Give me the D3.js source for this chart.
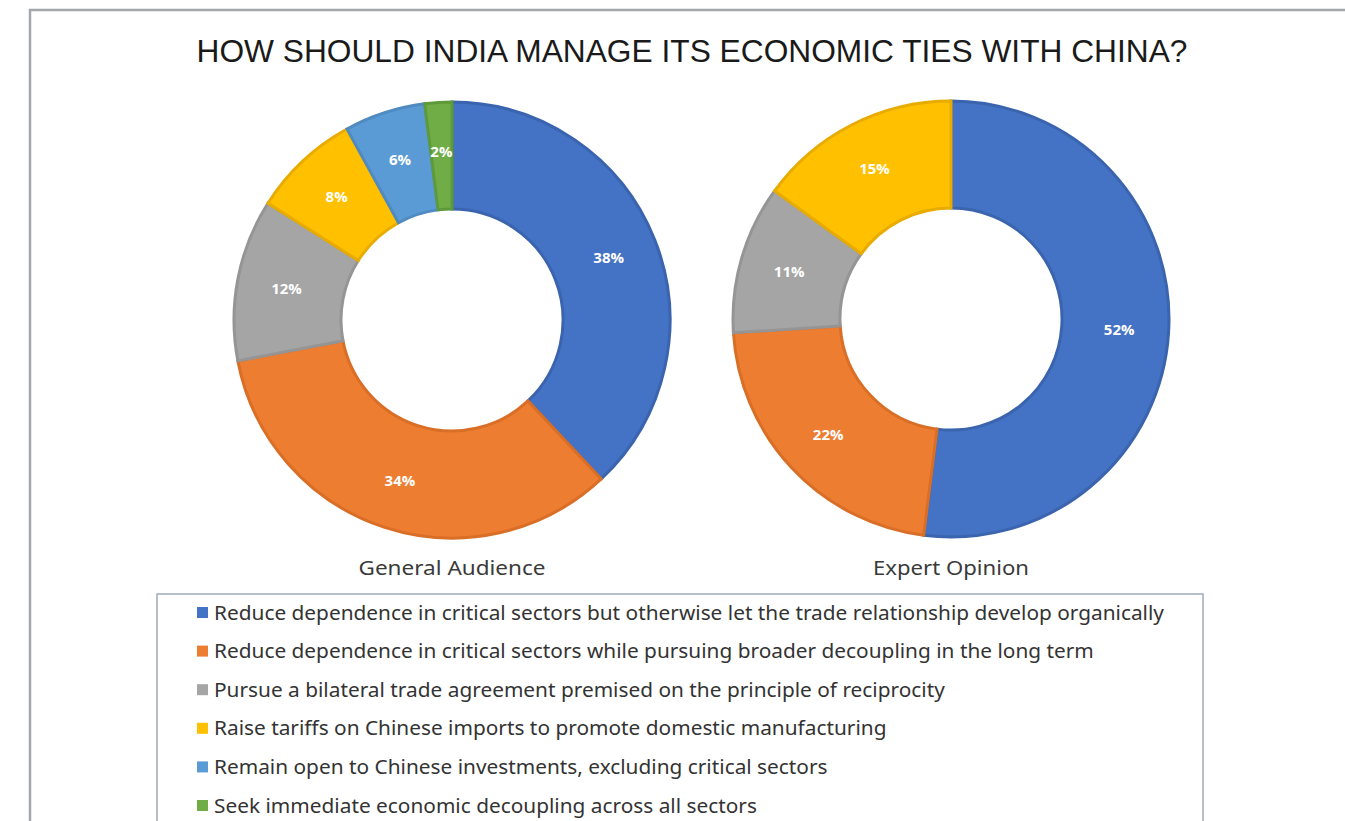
<!DOCTYPE html>
<html>
<head>
<meta charset="utf-8">
<script src="https://cdn.jsdelivr.net/npm/d3@7"></script>
<style>
  html, body { margin: 0; padding: 0; background: #ffffff; }
  svg { display: block; }
</style>
</head>
<body>
<svg id="chart" width="1345" height="821"></svg>
<script>
// Survey answer options (legend order = slice order)
const categories = [
  "Reduce dependence in critical sectors but otherwise let the trade relationship develop organically",
  "Reduce dependence in critical sectors while pursuing broader decoupling in the long term",
  "Pursue a bilateral trade agreement premised on the principle of reciprocity",
  "Raise tariffs on Chinese imports to promote domestic manufacturing",
  "Remain open to Chinese investments, excluding critical sectors",
  "Seek immediate economic decoupling across all sectors"
];
// Share of respondents (%) per option
const generalAudience = [38, 34, 12, 8, 6, 2];
const expertOpinion   = [52, 22, 11, 15, 0, 0];
const groupNames = ["General Audience", "Expert Opinion"];
const titleText = "HOW SHOULD INDIA MANAGE ITS ECONOMIC TIES WITH CHINA?";

const fills   = ["#4472C4", "#ED7D31", "#A5A5A5", "#FFC000", "#5B9BD5", "#70AD47"];
const strokes = ["#3B64AE", "#D96E26", "#959595", "#E8AC00", "#4F8AC0", "#5E9A3A"];

const svg = d3.select("#chart");
const W = 1345, H = 821;

// outer chart frame
svg.append("rect")
  .attr("x", 30).attr("y", 10)
  .attr("width", W + 20).attr("height", H + 20)
  .attr("fill", "#ffffff")
  .attr("stroke", "#a3a7ab").attr("stroke-width", 2.5);

// title
svg.append("text")
  .attr("x", 692).attr("y", 62)
  .attr("text-anchor", "middle")
  .attr("font-family", "'Liberation Sans', 'Noto Sans', sans-serif")
  .attr("font-size", 31)
  .attr("fill", "#1a1a1a")
  .attr("textLength", 991)
  .attr("lengthAdjust", "spacingAndGlyphs")
  .text(titleText);

// donuts
const pie = d3.pie().sort(null).value(d => d.v).startAngle(0).endAngle(2 * Math.PI);
const rInner = 111, rOuter = 218;
const arc = d3.arc().innerRadius(rInner).outerRadius(rOuter);
const labelArc = d3.arc().innerRadius(rInner + 4).outerRadius(rOuter + 4);

const centers = [{x: 452, y: 320}, {x: 951, y: 319}];
const datasets = [generalAudience, expertOpinion];
const groupLabelW = [187, 156];

datasets.forEach((vals, gi) => {
  const data = vals.map((v, i) => ({v, i}));
  const g = svg.append("g")
    .attr("transform", `translate(${centers[gi].x},${centers[gi].y})`);
  const arcs = pie(data).filter(d => d.data.v > 0);

  g.selectAll("path")
    .data(arcs)
    .join("path")
    .attr("d", arc)
    .attr("fill", d => fills[d.data.i])
    .attr("stroke", d => strokes[d.data.i])
    .attr("stroke-width", 3)
    .attr("stroke-linejoin", "miter");

  g.selectAll("text.pct")
    .data(arcs)
    .join("text")
    .attr("class", "pct")
    .attr("transform", d => {
      const c = labelArc.centroid(d);
      return `translate(${c[0]},${c[1]})`;
    })
    .attr("text-anchor", "middle")
    .attr("dy", "0.35em")
    .attr("font-family", "'Open Sans', 'Noto Sans', sans-serif")
    .attr("font-weight", "bold")
    .attr("font-size", 15)
    .attr("fill", "#ffffff")
    .text(d => d.data.v + "%");

  svg.append("text")
    .attr("x", centers[gi].x).attr("y", 575)
    .attr("text-anchor", "middle")
    .attr("font-family", "'Noto Sans', 'Open Sans', sans-serif")
    .attr("font-size", 19)
    .attr("fill", "#3a3a3a")
    .attr("textLength", groupLabelW[gi])
    .attr("lengthAdjust", "spacingAndGlyphs")
    .text(groupNames[gi]);
});

// legend box
svg.append("rect")
  .attr("x", 157).attr("y", 594)
  .attr("width", 1046).attr("height", 260)
  .attr("fill", "#ffffff")
  .attr("stroke", "#9fabb8").attr("stroke-width", 1.5);

const legendY = d3.scalePoint().domain(d3.range(categories.length)).range([613, 806]);
const rows = svg.append("g").selectAll("g")
  .data(categories)
  .join("g")
  .attr("transform", (d, i) => `translate(0,${legendY(i)})`);

rows.append("rect")
  .attr("x", 197).attr("y", -6)
  .attr("width", 11).attr("height", 11)
  .attr("fill", (d, i) => fills[i]);

const legendTexts = rows.append("text")
  .attr("x", 214)
  .attr("dy", "0.35em")
  .attr("font-family", "'Noto Sans', 'Open Sans', sans-serif")
  .attr("font-size", 19)
  .attr("fill", "#333333")
  .text(d => d);

// condense legend text uniformly so the longest line spans the box
const naturalW = legendTexts.nodes().map(n => n.getComputedTextLength());
const k = 950 / naturalW[0];
legendTexts.attr("textLength", (d, i) => naturalW[i] * k)
  .attr("lengthAdjust", "spacingAndGlyphs");
</script>
</body>
</html>
